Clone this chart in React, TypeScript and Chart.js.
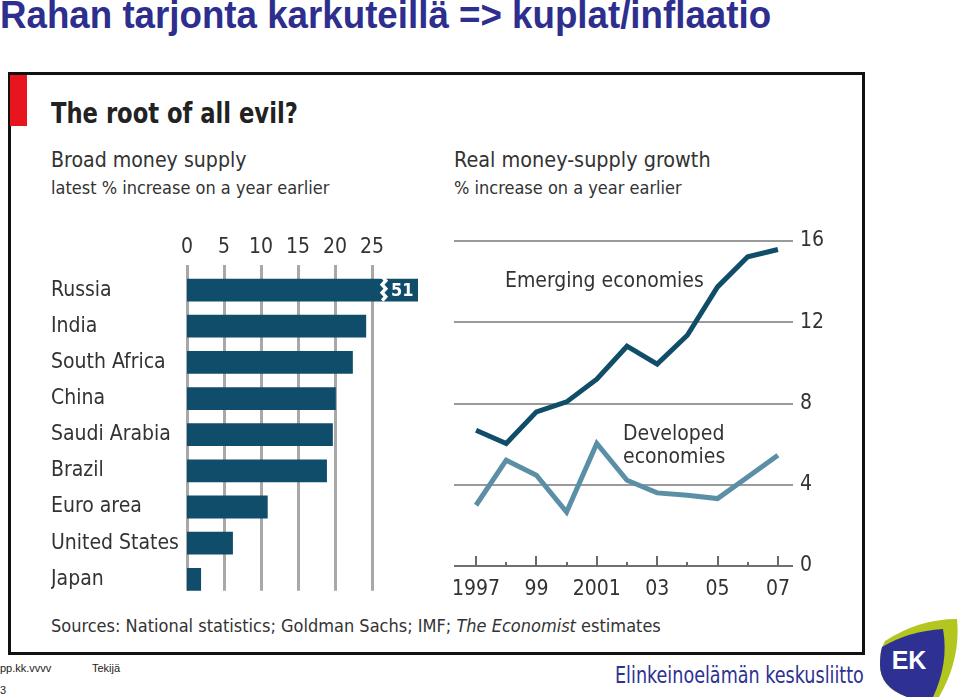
import React, { useEffect, useRef } from "react";
import { Chart, registerables } from "chart.js";

Chart.register(...registerables);

// ---------- data ----------
const COUNTRIES = [
  "Russia",
  "India",
  "South Africa",
  "China",
  "Saudi Arabia",
  "Brazil",
  "Euro area",
  "United States",
  "Japan",
];
const BROAD_MONEY = [51, 24.2, 22.4, 20.1, 19.7, 18.9, 10.9, 6.2, 1.9];
const BAR_TICKS = [0, 5, 10, 15, 20, 25];
const BAR_BREAK_AT = 26.6;

const YEARS = [1997, 1998, 1999, 2000, 2001, 2002, 2003, 2004, 2005, 2006, 2007];
const YEAR_LABELS = ["1997", "", "99", "", "2001", "", "03", "", "05", "", "07"];
const EMERGING = [6.68, 6.03, 7.59, 8.08, 9.2, 10.82, 9.94, 11.36, 13.74, 15.22, 15.58];
const DEVELOPED = [2.99, 5.21, 4.47, 2.66, 6.03, 4.22, 3.6, 3.48, 3.32, 4.38, 5.45];
const GROWTH_TICKS = [0, 4, 8, 12, 16];

// ---------- styles ----------
const ECO_FONT = "'Liberation Sans Narrow', 'DejaVu Sans Condensed', 'Open Sans', sans-serif";
const TEXT = "#333333";
const BAR_COLOR = "#0f4d6a";
const EMERGING_COLOR = "#104d69";
const DEVELOPED_COLOR = "#5b8fa6";
const GRID = "#a8a8a8";

function BarChart() {
  const ref = useRef<HTMLCanvasElement | null>(null);
  useEffect(() => {
    if (!ref.current) return;
    const decor = {
      id: "barDecor",
      beforeDatasetsDraw(chart: any) {
        const { ctx, scales, chartArea } = chart;
        const x = scales.x;
        const y = scales.y;
        const meta = chart.getDatasetMeta(0);
        const last = meta.data[meta.data.length - 1] as any;
        const bottom = y.getPixelForValue(COUNTRIES.length - 1) + last.height / 2;
        ctx.save();
        ctx.strokeStyle = GRID;
        ctx.lineWidth = 3;
        BAR_TICKS.forEach((v) => {
          const px = Math.round(x.getPixelForValue(v)) + 0.5;
          ctx.beginPath();
          ctx.moveTo(px, chartArea.top - 7);
          ctx.lineTo(px, bottom);
          ctx.stroke();
        });
        ctx.restore();
      },
      afterDatasetsDraw(chart: any) {
        const { ctx, scales } = chart;
        const x = scales.x;
        const meta = chart.getDatasetMeta(0);
        const bar = meta.data[0] as any;
        const top = bar.y - bar.height / 2;
        const bot = bar.y + bar.height / 2;
        const bx = x.getPixelForValue(BAR_BREAK_AT);
        ctx.save();
        ctx.strokeStyle = "#ffffff";
        ctx.lineWidth = 3.5;
        ctx.beginPath();
        let k = 0;
        for (let yy = top - 2; yy <= bot + 2; yy += 4) {
          const xx = bx + (k % 2 === 0 ? -1.8 : 1.8);
          if (k === 0) ctx.moveTo(xx, yy);
          else ctx.lineTo(xx, yy);
          k++;
        }
        ctx.stroke();
        ctx.fillStyle = "#ffffff";
        ctx.font = "bold 18px " + ECO_FONT;
        ctx.textBaseline = "middle";
        ctx.textAlign = "left";
        ctx.fillText(String(BROAD_MONEY[0]), bx + 7, bar.y + 1);
        ctx.restore();
      },
    };
    const chart = new Chart(ref.current, {
      type: "bar",
      data: {
        labels: COUNTRIES,
        datasets: [
          {
            data: BROAD_MONEY,
            backgroundColor: BAR_COLOR,
            borderWidth: 0,
            barPercentage: 0.63,
            categoryPercentage: 1,
            clip: 0 as any,
          },
        ],
      },
      options: {
        indexAxis: "y",
        animation: false,
        responsive: false,
        layout: { padding: { left: 0, right: 13, top: 0, bottom: 6 } },
        plugins: { legend: { display: false }, tooltip: { enabled: false } },
        scales: {
          x: {
            type: "linear",
            position: "top",
            min: 0,
            max: 31.2,
            afterBuildTicks: (s: any) => {
              s.ticks = BAR_TICKS.map((v) => ({ value: v }));
            },
            afterFit: (s: any) => {
              s.height = 42;
            },
            ticks: {
              padding: 12,
              color: TEXT,
              font: { family: ECO_FONT, size: 21 },
              maxRotation: 0,
              autoSkip: false,
            },
            grid: { display: false, drawTicks: false },
            border: { display: false },
          },
          y: {
            type: "category",
            afterFit: (s: any) => {
              s.width = 136;
            },
            ticks: {
              crossAlign: "far",
              padding: 0,
              color: TEXT,
              font: { family: ECO_FONT, size: 21 },
              autoSkip: false,
            },
            grid: { display: false, drawTicks: false },
            border: { display: false },
          },
        },
      },
      plugins: [decor],
    });
    return () => chart.destroy();
  }, []);
  return (
    <canvas
      ref={ref}
      width={380}
      height={380}
      style={{ position: "absolute", left: 51, top: 230 }}
    />
  );
}

function LineChart() {
  const ref = useRef<HTMLCanvasElement | null>(null);
  useEffect(() => {
    if (!ref.current) return;
    const ticksPlugin = {
      id: "yearTicks",
      afterDraw(chart: any) {
        const { ctx, scales } = chart;
        const x = scales.x;
        const y0 = scales.y.getPixelForValue(0);
        ctx.save();
        ctx.strokeStyle = "#6a6a6a";
        ctx.lineWidth = 2;
        YEARS.forEach((yr, i) => {
          const px = Math.round(x.getPixelForValue(yr));
          const len = YEAR_LABELS[i] ? 10 : 4;
          ctx.beginPath();
          ctx.moveTo(px, y0);
          ctx.lineTo(px, y0 - len);
          ctx.stroke();
        });
        ctx.restore();
      },
    };
    const chart = new Chart(ref.current, {
      type: "line",
      data: {
        datasets: [
          {
            data: YEARS.map((yr, i) => ({ x: yr, y: EMERGING[i] })),
            borderColor: EMERGING_COLOR,
            borderWidth: 5,
            pointRadius: 0,
            tension: 0,
          },
          {
            data: YEARS.map((yr, i) => ({ x: yr, y: DEVELOPED[i] })),
            borderColor: DEVELOPED_COLOR,
            borderWidth: 5,
            pointRadius: 0,
            tension: 0,
          },
        ],
      },
      options: {
        animation: false,
        responsive: false,
        layout: { padding: { left: 14, top: 21, right: 0, bottom: 0 } },
        plugins: { legend: { display: false }, tooltip: { enabled: false } },
        scales: {
          x: {
            type: "linear",
            min: 1996.27,
            max: 2007.5,
            afterBuildTicks: (s: any) => {
              s.ticks = YEARS.map((v) => ({ value: v }));
            },
            afterFit: (s: any) => {
              s.height = 44;
            },
            ticks: {
              padding: 11,
              color: TEXT,
              font: { family: ECO_FONT, size: 21 },
              maxRotation: 0,
              autoSkip: false,
              callback: (v: any) => {
                const i = YEARS.indexOf(Number(v));
                return i >= 0 ? YEAR_LABELS[i] : "";
              },
            },
            grid: { display: false, drawTicks: false },
            border: { display: false },
          },
          y: {
            type: "linear",
            position: "right",
            min: 0,
            max: 16,
            afterBuildTicks: (s: any) => {
              s.ticks = GROWTH_TICKS.map((v) => ({ value: v }));
            },
            afterFit: (s: any) => {
              s.width = 47;
            },
            ticks: {
              padding: 7,
              color: TEXT,
              font: { family: ECO_FONT, size: 21 },
            },
            grid: {
              drawTicks: false,
              lineWidth: 2,
              color: (c: any) => (c.tick && c.tick.value === 0 ? "#6f6f6f" : "#9a9a9a"),
            },
            border: { display: false },
          },
        },
      },
      plugins: [ticksPlugin],
    });
    return () => chart.destroy();
  }, []);
  return (
    <canvas
      ref={ref}
      width={400}
      height={390}
      style={{ position: "absolute", left: 440, top: 220 }}
    />
  );
}

function Txt(props: { x: number; y: number; size: number; children: any; style?: any }) {
  return (
    <div
      style={{
        position: "absolute",
        left: props.x,
        top: props.y - props.size * 0.6,
        fontSize: props.size,
        lineHeight: props.size * 1.2 + "px",
        fontFamily: ECO_FONT,
        color: TEXT,
        whiteSpace: "nowrap",
        transformOrigin: "0 50%",
        ...(props.style || {}),
      }}
    >
      {props.children}
    </div>
  );
}

export default function App() {
  return (
    <div
      style={{
        position: "absolute",
        left: 0,
        top: 0,
        width: 959,
        height: 697,
        overflow: "hidden",
        background: "#ffffff",
      }}
    >
      <div
        style={{
          position: "absolute",
          left: 0,
          top: -7,
          fontFamily: "'Liberation Sans Narrow', 'Liberation Sans', Arial, sans-serif",
          fontWeight: "bold",
          fontSize: 38,
          lineHeight: "44px",
          color: "#2d2e8e",
          whiteSpace: "nowrap",
          transform: "scaleX(0.966)",
          transformOrigin: "0 50%",
        }}
      >
        Rahan tarjonta karkuteillä =&gt; kuplat/inflaatio
      </div>

      {/* framed Economist chart */}
      <div
        style={{
          position: "absolute",
          left: 8,
          top: 72,
          width: 851,
          height: 577,
          border: "3px solid #111111",
        }}
      />
      <div
        style={{
          position: "absolute",
          left: 10,
          top: 75,
          width: 17,
          height: 51,
          background: "#e8151e",
        }}
      />
      <Txt
        x={51}
        y={114}
        size={28}
        style={{ fontWeight: "bold", color: "#222", transform: "scaleX(0.9)" }}
      >
        The root of all evil?
      </Txt>
      <Txt x={51} y={160} size={22} style={{ transform: "scaleX(0.96)" }}>
        Broad money supply
      </Txt>
      <Txt x={51} y={188} size={18}>
        latest % increase on a year earlier
      </Txt>
      <Txt x={454} y={160} size={22} style={{ transform: "scaleX(0.973)" }}>
        Real money-supply growth
      </Txt>
      <Txt x={454} y={188} size={18}>
        % increase on a year earlier
      </Txt>

      <BarChart />
      <LineChart />

      <Txt x={505} y={281} size={21}>
        Emerging economies
      </Txt>
      <Txt x={623} y={434} size={21}>
        Developed
      </Txt>
      <Txt x={623} y={457} size={21}>
        economies
      </Txt>

      <Txt x={51} y={626} size={18}>
        Sources: National statistics; Goldman Sachs; IMF; <i>The Economist</i> estimates
      </Txt>

      {/* slide footer */}
      <div
        style={{
          position: "absolute",
          left: 0,
          top: 662,
          fontFamily: "'Liberation Sans', Arial, sans-serif",
          fontSize: 11,
          color: "#222",
        }}
      >
        pp.kk.vvvv
      </div>
      <div
        style={{
          position: "absolute",
          left: 92,
          top: 662,
          fontFamily: "'Liberation Sans', Arial, sans-serif",
          fontSize: 11,
          color: "#222",
        }}
      >
        Tekijä
      </div>
      <div
        style={{
          position: "absolute",
          left: 0,
          top: 684,
          fontFamily: "'Liberation Sans', Arial, sans-serif",
          fontSize: 11,
          color: "#222",
        }}
      >
        3
      </div>
      <div
        style={{
          position: "absolute",
          left: 615,
          top: 661,
          fontFamily: ECO_FONT,
          fontSize: 23,
          lineHeight: "28px",
          color: "#2e3192",
          whiteSpace: "nowrap",
          transform: "scaleX(0.85)",
          transformOrigin: "0 50%",
        }}
      >
        Elinkeinoelämän keskusliitto
      </div>
      <svg
        width={80}
        height={80}
        viewBox="0 0 80 80"
        style={{ position: "absolute", left: 879, top: 617 }}
      >
        <path d="M6 24 Q40 2 78 2 Q82 42 60 80 L28 80 Q0 70 1 46 Q1 32 6 24 Z" fill="#b3c51f" />
        <path d="M3 30 Q30 14 64 12 Q70 46 54 80 L28 80 Q1 70 1 48 Q1 37 3 30 Z" fill="#2e3192" />
        <text
          x="30"
          y="52"
          textAnchor="middle"
          fontFamily="'Liberation Sans', Arial, sans-serif"
          fontWeight="bold"
          fontSize="25"
          fill="#ffffff"
        >
          EK
        </text>
      </svg>
    </div>
  );
}
